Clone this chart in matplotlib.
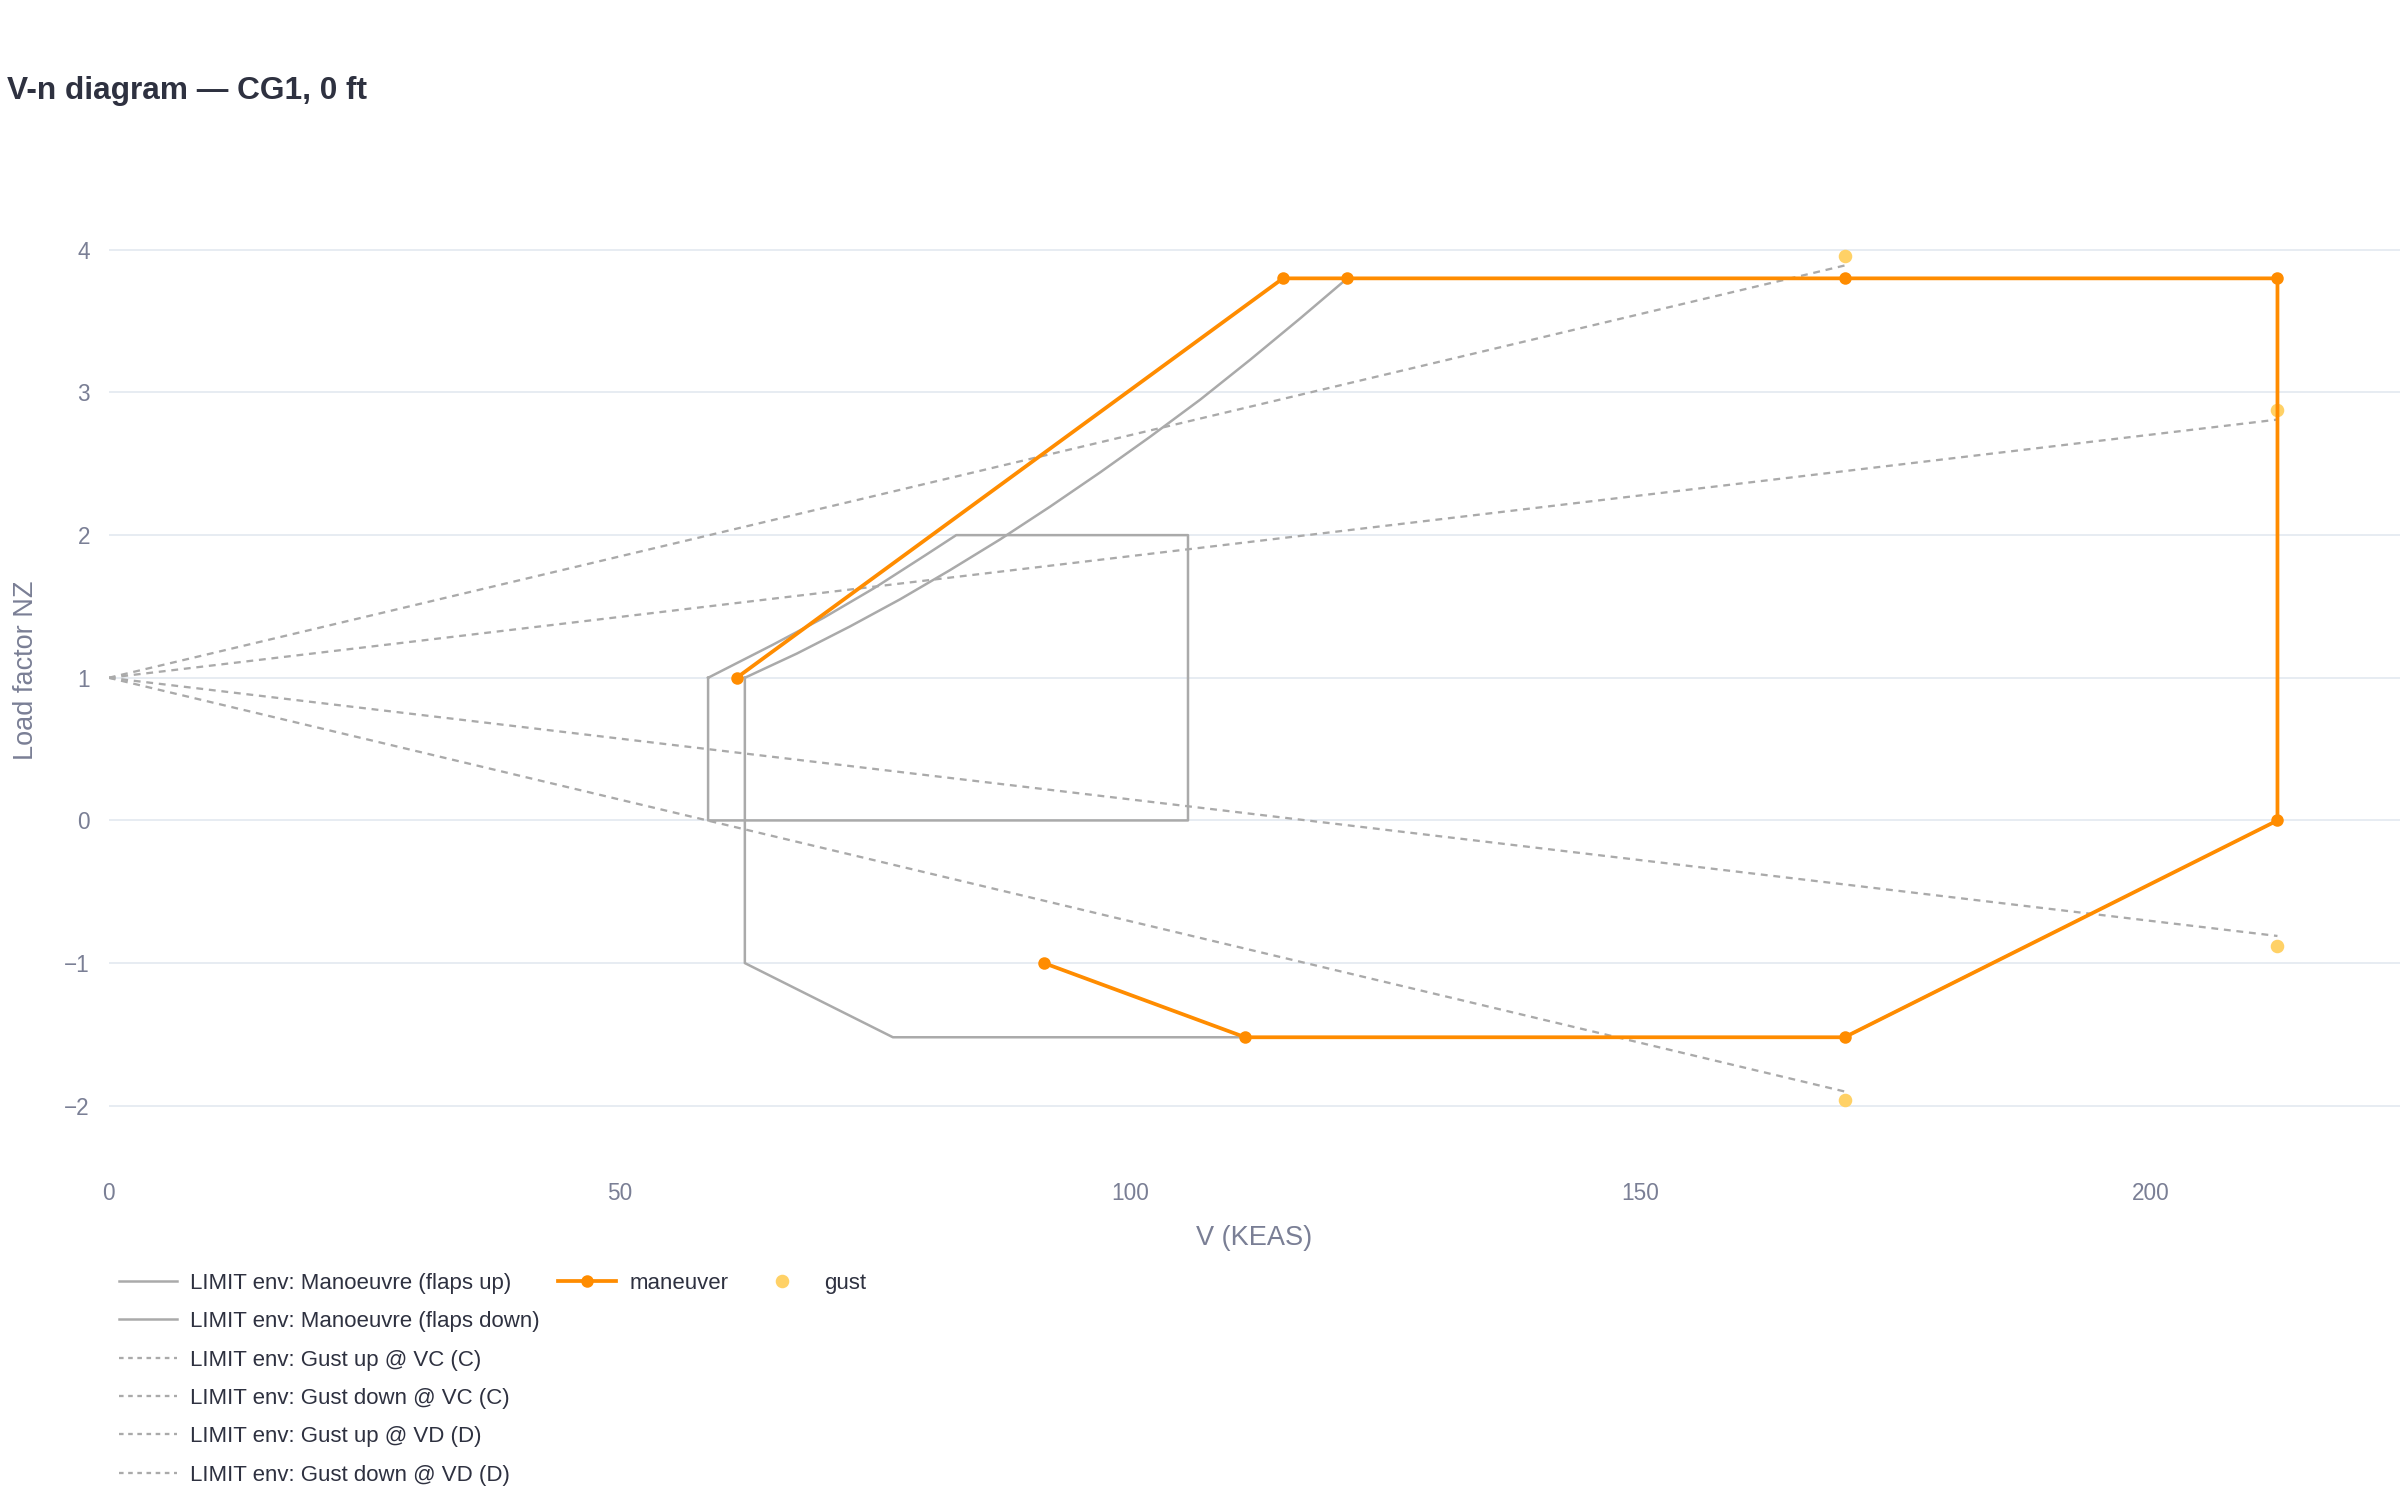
import matplotlib.pyplot as plt
from matplotlib.lines import Line2D

plt.rcParams['font.family'] = ['Liberation Sans', 'DejaVu Sans']

# maneuver envelope points (KEAS, n)
man_v = [61.5, 115.0, 121.3, 170.0, 212.4, 212.4, 170.0, 111.3, 91.6]
man_n = [1.0, 3.8, 3.8, 3.8, 3.8, 0.0, -1.52, -1.52, -1.0]

# gust points
gust_v = [170.0, 212.4, 212.4, 170.0]
gust_n = [3.96, 2.88, -0.88, -1.96]

# limit envelope, flaps up
fu_v = [62.3, 62.3, 76.8, 111.3, 170.0, 212.4, 212.4, 121.3, 116.7, 111.8, 106.9, 102.0,
        97.1, 92.2, 87.3, 82.4, 77.5, 72.6, 67.4, 62.3]
fu_n = [1.0, -1.0, -1.52, -1.52, -1.52, 0.0, 3.8, 3.8, 3.52, 3.23, 2.95, 2.69,
        2.44, 2.20, 1.97, 1.755, 1.55, 1.36, 1.17, 1.0]

# limit envelope, flaps down
fd_v = [58.7, 58.7, 105.7, 105.7, 83.0, 80.0, 75.0, 70.0, 65.0, 58.7]
fd_n = [1.0, 0.0, 0.0, 2.0, 2.0, 1.86, 1.63, 1.42, 1.23, 1.0]

# gust lines
gust_lines = {
    "LIMIT env: Gust up @ VC (C)": ([0, 170.0], [1, 3.89]),
    "LIMIT env: Gust down @ VC (C)": ([0, 170.0], [1, -1.90]),
    "LIMIT env: Gust up @ VD (D)": ([0, 212.4], [1, 2.81]),
    "LIMIT env: Gust down @ VD (D)": ([0, 212.4], [1, -0.81]),
}

gray = "#AAAAAA"
orange = "#FF8C00"
yellow = "#FFD166"
tick_col = "#7A7F95"
text_col = "#2E3140"

fig = plt.figure(figsize=(16, 10), dpi=150)
ax = fig.add_axes([0.0453, 0.2248, 0.9547, 0.6562])

ax.plot(fu_v, fu_n, color=gray, lw=1.2, zorder=2)
ax.plot(fd_v, fd_n, color=gray, lw=1.2, zorder=2)
for name, (v, n) in gust_lines.items():
    ax.plot(v, n, color=gray, lw=1.1, dashes=(3, 2.5), zorder=2)

ax.plot(man_v, man_n, color=orange, lw=1.8, marker="o", ms=5, zorder=4)
ax.plot(gust_v, gust_n, ls="none", marker="o", ms=5.5, color=yellow, zorder=3)

ax.set_xlim(0, 224.4)
ax.set_ylim(-2.4, 4.5)
ax.set_xticks([0, 50, 100, 150, 200])
ax.set_yticks([-2, -1, 0, 1, 2, 3, 4])
ax.grid(True, axis="y", color="#E6EBF2", lw=0.9)
ax.set_axisbelow(True)
for s in ax.spines.values():
    s.set_visible(False)
ax.tick_params(length=0, labelsize=10.8, colors=tick_col)
ax.tick_params(axis="y", pad=9)
ax.tick_params(axis="x", pad=9)

ax.set_xlabel("V (KEAS)", fontsize=13, color=tick_col, labelpad=10)
ax.set_ylabel("Load factor NZ", fontsize=13, color=tick_col, labelpad=12)

fig.text(0.003, 0.939, "V-n diagram — CG1, 0 ft", fontsize=15.2, fontweight="bold",
         color=text_col, va="center", ha="left")

# legends
h1 = [Line2D([], [], color=gray, lw=1.2), Line2D([], [], color=gray, lw=1.2)]
h1 += [Line2D([], [], color=gray, lw=1.1, dashes=(2, 2)) for _ in gust_lines]
l1 = ["LIMIT env: Manoeuvre (flaps up)", "LIMIT env: Manoeuvre (flaps down)"] + list(gust_lines)
leg1 = fig.legend(h1, l1, loc="upper left", bbox_to_anchor=(0.0495, 0.1515), frameon=False,
                  fontsize=10.7, handlelength=2.6, handletextpad=0.6, labelspacing=0.78,
                  borderaxespad=0, borderpad=0)
for t in leg1.get_texts():
    t.set_color(text_col)

h2 = [Line2D([], [], color=orange, lw=1.8, marker="o", ms=5),
      Line2D([], [], ls="none", marker="o", ms=5.5, color=yellow)]
leg2 = fig.legend(h2, ["maneuver", "gust"], loc="upper left", bbox_to_anchor=(0.2325, 0.1515),
                  frameon=False, fontsize=10.7, ncol=2, handlelength=2.6, handletextpad=0.6,
                  columnspacing=1.1, borderaxespad=0, borderpad=0)
for t in leg2.get_texts():
    t.set_color(text_col)

fig.savefig("out.png", dpi=150, facecolor="white")
